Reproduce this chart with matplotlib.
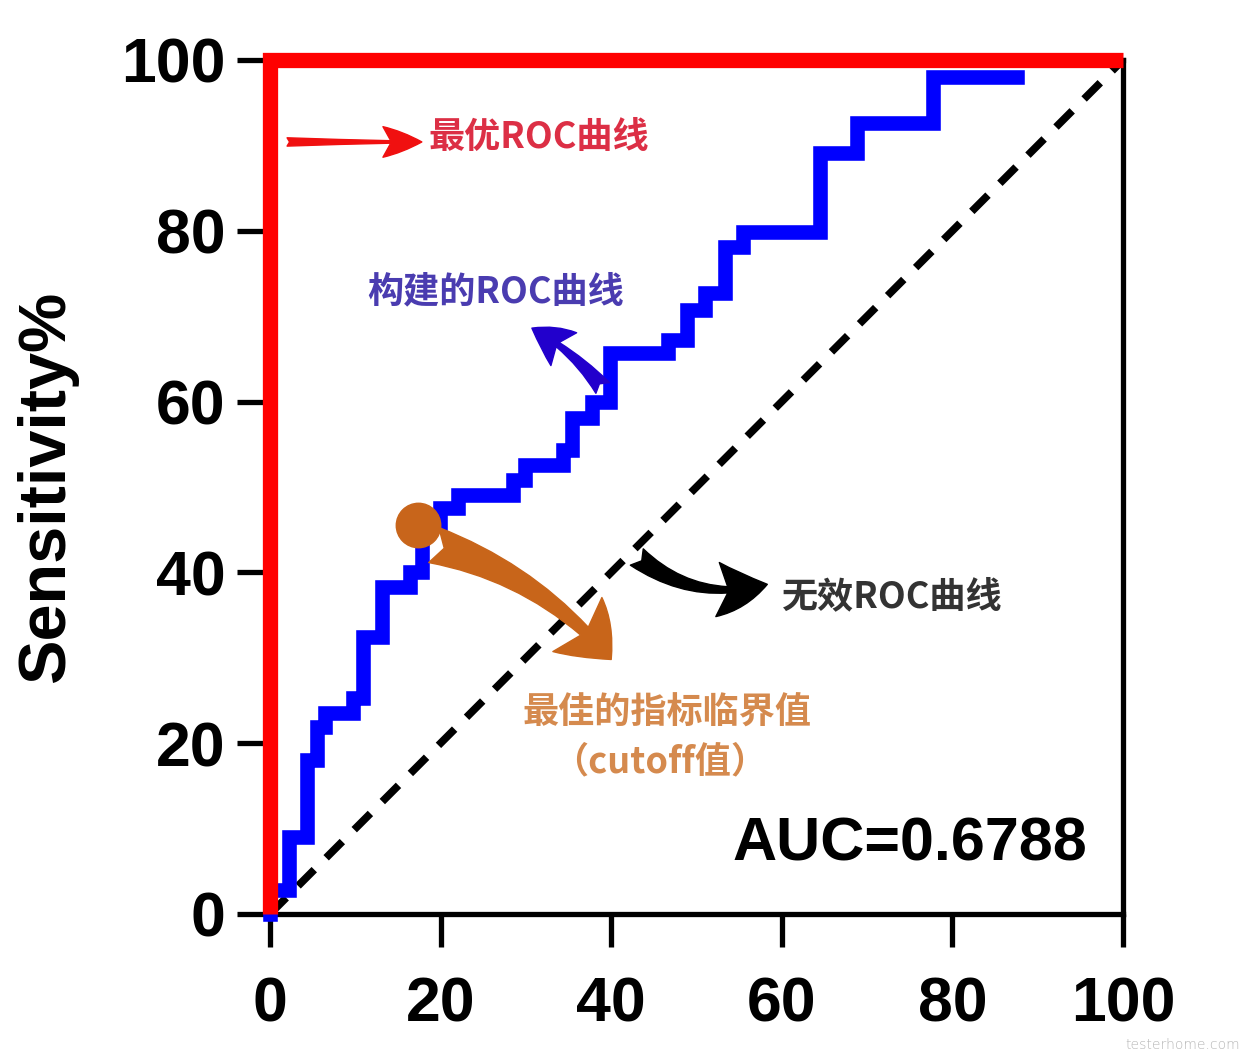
import matplotlib
matplotlib.use('Agg')
import matplotlib.pyplot as plt

# ---------------- data ----------------
# constructed ROC curve (1 - specificity %, sensitivity %), step vertices
fpr = [0, 0, 2.2, 4.3, 5.5, 6.4, 9.7, 10.9, 13.1, 16.4, 17.8, 19.9, 22.0, 28.5,
       29.9, 34.3, 35.4, 37.7, 39.9, 46.7, 48.9, 51.0, 53.3, 55.5, 64.5, 68.8,
       77.7, 87.6]
tpr = [0, 2.8, 9.0, 18.0, 21.9, 23.5, 25.3, 32.4, 38.3, 40.0, 45.5, 47.5, 49.1,
       50.8, 52.6, 54.3, 58.1, 60.0, 65.7, 67.2, 70.7, 72.7, 78.1, 79.9, 89.1,
       92.6, 98.0, 98.0]
# optimal ROC curve
best_x = [0, 0, 100]
best_y = [0, 100, 100]
# reference (useless) ROC curve
ref_x = [0, 100]
ref_y = [0, 100]
# best cutoff point
cutoff_x = [17.4]
cutoff_y = [45.6]
ticks = [0, 20, 40, 60, 80, 100]
tick_labels = ["0", "20", "40", "60", "80", "100"]
auc_label = "AUC=0.6788"
ylabel = "Sensitivity%"
lbl_best = "最优ROC曲线"
lbl_built = "构建的ROC曲线"
lbl_ref = "无效ROC曲线"
lbl_cut1 = "最佳的指标临界值"
lbl_cut2 = "（cutoff值）"

plt.rcParams['font.family'] = ['Liberation Sans', 'Noto Sans CJK SC', 'DejaVu Sans']
CJK = ['Noto Sans CJK SC', 'DejaVu Sans']

fig = plt.figure(figsize=(12.42, 10.52), dpi=100)
ax = fig.add_axes([0.2174, 0.1312, 0.6868, 0.8118])
ax.set_xlim(0, 100)
ax.set_ylim(0, 100)

ax.plot(ref_x, ref_y, color='black', lw=5.5, dashes=(3.0, 2.2), zorder=2)
ax.plot(fpr, tpr, drawstyle='steps-post', color='#0000ff', lw=10.5,
        solid_joinstyle='miter', zorder=3, clip_on=False)
ax.plot(best_x, best_y, color='#ff0000', lw=11, solid_joinstyle='miter',
        solid_capstyle='butt', zorder=4, clip_on=False)
ax.plot(cutoff_x, cutoff_y, 'o', ms=32, color='#c8651b', zorder=5)

for s in ax.spines.values():
    s.set_linewidth(3.8)
    s.set_color('black')

ax.set_xticks(ticks, labels=tick_labels, fontsize=45, fontweight='bold')
ax.set_yticks(ticks, labels=tick_labels, fontsize=45, fontweight='bold')
ax.tick_params(axis='both', length=24, width=3.8, direction='out')
ax.tick_params(axis='x', pad=20)
ax.tick_params(axis='y', pad=8)
ax.set_ylabel(ylabel, fontsize=48, fontweight='bold')
ax.yaxis.set_label_coords(-0.225, 0.5)

# annotations
ax.annotate('', xy=(17.8, 90.4), xytext=(2.0, 90.4),
            arrowprops=dict(arrowstyle='fancy,head_length=1.4,head_width=1.1,tail_width=0.3',
                            color='#f01010', mutation_scale=20, shrinkA=0, shrinkB=0,
                            connectionstyle='arc3,rad=0'), zorder=6)
ax.text(31.5, 90.9, lbl_best, color='#dc2f45', fontsize=26, fontweight='bold',
        family=CJK, ha='center', va='center')

ax.annotate('', xy=(30.7, 68.6), xytext=(39.0, 61.6),
            arrowprops=dict(arrowstyle='fancy,head_length=1.1,head_width=1.2,tail_width=0.5',
                            color='#2200cc', mutation_scale=25, shrinkA=0, shrinkB=0,
                            connectionstyle='arc3,rad=0.1'), zorder=6)
ax.text(26.4, 72.8, lbl_built, color='#4a3cb0', fontsize=26, fontweight='bold',
        family=CJK, ha='center', va='center')

ax.annotate('', xy=(58.3, 38.6), xytext=(43.0, 41.8),
            arrowprops=dict(arrowstyle='fancy,head_length=1.2,head_width=1.3,tail_width=0.5',
                            color='black', mutation_scale=30, shrinkA=0, shrinkB=0,
                            connectionstyle='arc3,rad=0.25'), zorder=6)
ax.text(72.9, 37.2, lbl_ref, color='#333333', fontsize=26, fontweight='bold',
        family=CJK, ha='center', va='center')

ax.annotate('', xy=(40.0, 29.8), xytext=(19.2, 43.2),
            arrowprops=dict(arrowstyle='fancy,head_length=1.0,head_width=1.5,tail_width=0.75',
                            color='#c8651a', mutation_scale=35, shrinkA=0, shrinkB=0,
                            connectionstyle='arc3,rad=-0.15'), zorder=6)
ax.text(46.5, 23.5, lbl_cut1, color='#d58a4e', fontsize=26, fontweight='bold',
        family=CJK, ha='center', va='center')
ax.text(45.7, 17.8, lbl_cut2, color='#d58a4e', fontsize=26, fontweight='bold',
        family=CJK, ha='center', va='center')

ax.text(75.0, 8.1, auc_label, color='black', fontsize=44, fontweight='bold',
        ha='center', va='center')

fig.text(0.998, 0.0, 'testerhome.com', ha='right', va='bottom', color='#b5b5b5',
         fontsize=10, family='DejaVu Sans', fontweight='light')

fig.savefig('out.png', dpi=100, facecolor='white')
